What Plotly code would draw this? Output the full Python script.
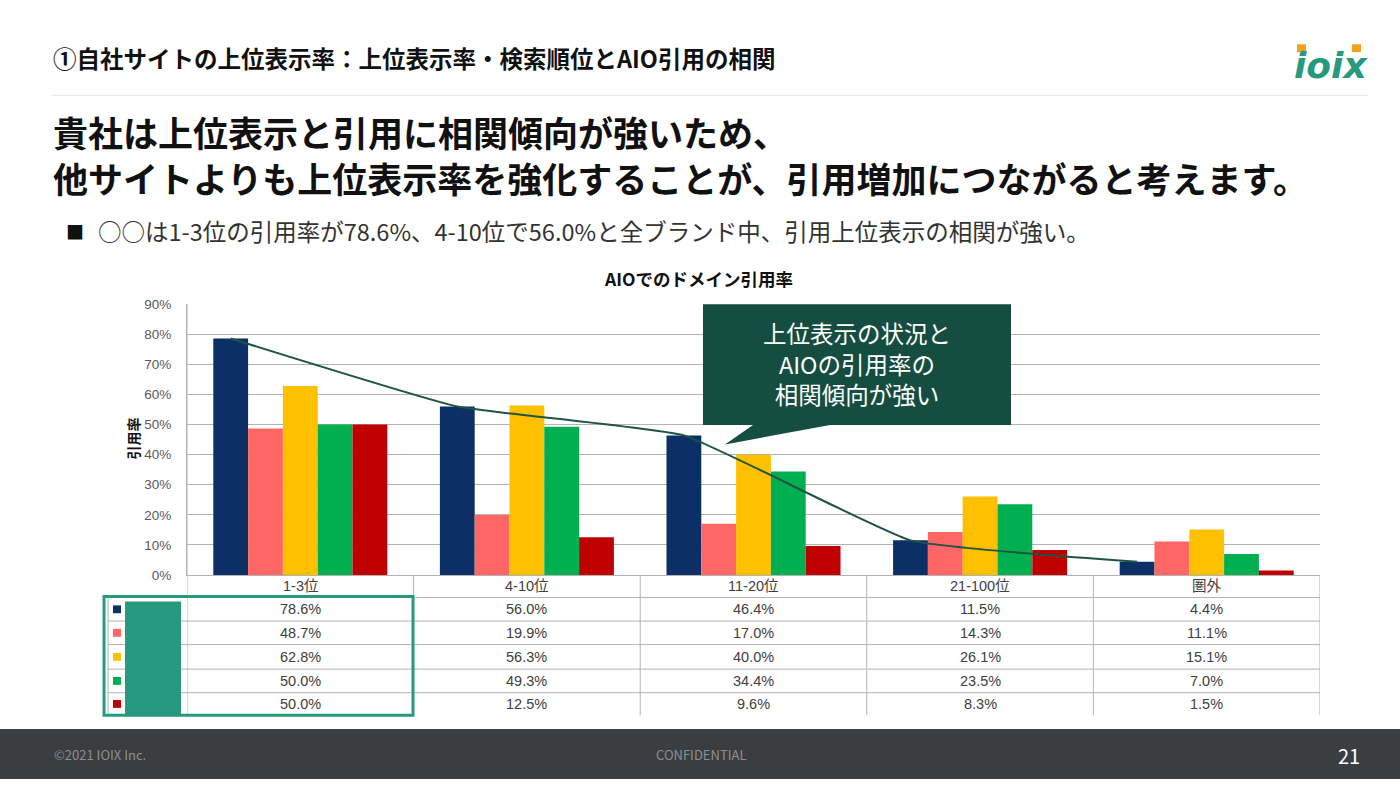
"""AIO domain citation rate by search rank, with an Excel-style data table."""

import numpy as np
import plotly.graph_objects as go

W, H = 1400, 787

# ---- data ---------------------------------------------------------------
rank_groups = ["1-3位", "4-10位", "11-20位", "21-100位", "圏外"]
series_colors = ["#0c2f66", "#ff6666", "#ffc000", "#00b050", "#c00000"]
rate_s1 = [0.786, 0.560, 0.464, 0.115, 0.044]
rate_s2 = [0.487, 0.199, 0.170, 0.143, 0.111]
rate_s3 = [0.628, 0.563, 0.400, 0.261, 0.151]
rate_s4 = [0.500, 0.493, 0.344, 0.235, 0.070]
rate_s5 = [0.500, 0.125, 0.096, 0.083, 0.015]
series = [rate_s1, rate_s2, rate_s3, rate_s4, rate_s5]
y_ticks = [0.0, 0.1, 0.2, 0.3, 0.4, 0.5, 0.6, 0.7, 0.8, 0.9]

page_title = "①自社サイトの上位表示率：上位表示率・検索順位とAIO引用の相関"
headline = ["貴社は上位表示と引用に相関傾向が強いため、",
            "他サイトよりも上位表示率を強化することが、引用増加につながると考えます。"]
bullet = "○○は1-3位の引用率が78.6%、4-10位で56.0%と全ブランド中、引用上位表示の相関が強い。"
chart_title = "AIOでのドメイン引用率"
callout = ["上位表示の状況と", "AIOの引用率の", "相関傾向が強い"]

JP = "'Noto Sans CJK JP', sans-serif"
XL = "'Liberation Sans', 'Noto Sans CJK JP', sans-serif"
GRID = "#b3b3b3"
TEAL = "#26997f"
BAR_GAP = 0.232


def px(x):
    return x / W


def py(y):
    return 1 - y / H


fig = go.Figure()
for vals, color in zip(series, series_colors):
    fig.add_trace(go.Bar(x=list(range(len(rank_groups))), y=vals,
                         marker=dict(color=color, line_width=0)))

# smoothed trend through the first series, centred on its bars
bar_w = (1 - BAR_GAP) / len(series)
trend_x = np.arange(len(rank_groups)) - 2 * bar_w
fig.add_trace(go.Scatter(x=trend_x, y=rate_s1, mode="lines",
                         line=dict(color="#1d5543", width=2, shape="spline", smoothing=0.35),
                         hoverinfo="skip"))

shapes = []
ann = []

# ---- page furniture -----------------------------------------------------
shapes.append(dict(type="line", xref="paper", yref="paper", x0=px(52), x1=px(1368),
                   y0=py(90), y1=py(90), line=dict(color="#e3e3e3", width=1)))
shapes.append(dict(type="rect", xref="paper", yref="paper", x0=0, x1=1,
                   y0=0, y1=py(736), fillcolor="#3a3e41", line_width=0, layer="below"))
ann.append(dict(text=f"<b>{page_title}</b>", x=px(51), y=py(52),
                font=dict(family=JP, size=23.5, color="#111"), xanchor="left"))
ann.append(dict(text="<b>" + "<br>".join(headline) + "</b>", x=px(51), y=py(150),
                font=dict(family=JP, size=35, color="#111"), xanchor="left", align="left"))
ann.append(dict(text="■", x=px(64), y=py(228), font=dict(family=JP, size=18, color="#111"),
                xanchor="left"))
ann.append(dict(text=bullet, x=px(96), y=py(228), font=dict(family=JP, size=23.5, color="#333"),
                xanchor="left"))
ann.append(dict(text="©2021 IOIX Inc.", x=px(52), y=py(762),
                font=dict(family=JP, size=13, color="#8c8f92"), xanchor="left"))
ann.append(dict(text="CONFIDENTIAL", x=px(701), y=py(762),
                font=dict(family=JP, size=13, color="#8c8f92")))
ann.append(dict(text="21", x=px(1362), y=py(763),
                font=dict(family=JP, size=20, color="#ffffff"), xanchor="right"))

# logo
ann.append(dict(text="<b><i>ioix</i></b>", x=px(1331), y=py(60),
                font=dict(family="'DejaVu Sans', sans-serif", size=36, color=TEAL)))
for lx in (1297, 1352):
    shapes.append(dict(type="rect", xref="paper", yref="paper", x0=px(lx), x1=px(lx + 9),
                       y0=py(46), y1=py(38), fillcolor="#f4a21c", line_width=0))

# ---- chart titles -------------------------------------------------------
ann.append(dict(text=f"<b>{chart_title}</b>", x=px(698), y=py(277),
                font=dict(family=JP, size=17.5, color="#111")))
ann.append(dict(text="<b>引用率</b>", x=px(133), y=py(440), textangle=-90,
                font=dict(family=JP, size=14, color="#111")))

# ---- callout ------------------------------------------------------------
shapes.append(dict(type="path", xref="paper", yref="paper", fillcolor="#154e40", line_width=0,
                   path=(f"M {px(703)} {py(303)} L {px(1011)} {py(303)} L {px(1011)} {py(426)} "
                         f"L {px(830)} {py(426)} L {px(725)} {py(446)} L {px(753)} {py(426)} "
                         f"L {px(703)} {py(426)} Z")))
ann.append(dict(text="<br>".join(callout), x=px(857), y=py(363), align="center",
                font=dict(family=JP, size=23.5, color="#ffffff")))

# ---- data table ---------------------------------------------------------
header_y = (579, 602)
row_edges = [602, 626, 650, 675, 699, 722]
n = len(rank_groups)
for k in range(n + 1):
    shapes.append(dict(type="line", xref="x", yref="paper", x0=k - 0.5, x1=k - 0.5,
                       y0=py(579 if k else 303), y1=py(722), line=dict(color=GRID, width=1)))
shapes.append(dict(type="line", xref="paper", yref="paper", x0=px(108), x1=px(108),
                   y0=py(602), y1=py(722), line=dict(color=GRID, width=1)))
for ry in row_edges[:-1]:
    shapes.append(dict(type="line", xref="paper", yref="paper", x0=px(108), x1=px(1320),
                       y0=py(ry), y1=py(ry), line=dict(color=GRID, width=1)))
for k, name in enumerate(rank_groups):
    ann.append(dict(text=name, x=k, xref="x", y=py(sum(header_y) / 2),
                    font=dict(family=XL, size=14.5, color="#404040")))
for r, (vals, color) in enumerate(zip(series, series_colors)):
    yc = (row_edges[r] + row_edges[r + 1]) / 2
    shapes.append(dict(type="rect", xref="paper", yref="paper", x0=px(113), x1=px(121),
                       y0=py(yc - 4), y1=py(yc + 4), fillcolor=color, line_width=0))
    for k, v in enumerate(vals):
        ann.append(dict(text=f"{v * 100:.1f}%", x=k, xref="x", y=py(yc),
                        font=dict(family=XL, size=14.5, color="#404040")))

# redacted series names and highlight box
shapes.append(dict(type="rect", xref="paper", yref="paper", x0=px(125), x1=px(181),
                   y0=py(606), y1=py(722), fillcolor=TEAL, line_width=0))
shapes.append(dict(type="rect", xref="paper", yref="paper", x0=px(104), x1=px(413),
                   y0=py(601), y1=py(722), line=dict(color=TEAL, width=3)))

for a in ann:
    a.setdefault("xref", "paper")
    a.setdefault("yref", "paper")
    a.setdefault("xanchor", "center")
    a.setdefault("yanchor", "middle")
    a["showarrow"] = False

fig.update_layout(
    width=W, height=H, margin=dict(l=0, r=0, t=0, b=0),
    paper_bgcolor="white", plot_bgcolor="white", showlegend=False,
    barmode="group", bargap=BAR_GAP, bargroupgap=0,
    shapes=shapes, annotations=ann,
    xaxis=dict(domain=[px(187), px(1320)], range=[-0.5, n - 0.5], showticklabels=False,
               showgrid=False, zeroline=False, showline=True, linecolor=GRID, ticks="",
               fixedrange=True),
    yaxis=dict(domain=[py(579), py(303)], range=[0, 0.9], tickvals=y_ticks, tickformat=".0%",
               showgrid=True, gridcolor=GRID, gridwidth=1, zeroline=False, showline=True,
               linecolor=GRID, ticks="", ticklabelstandoff=12,
               tickfont=dict(family=XL, size=13.5, color="#595959"), fixedrange=True),
)

fig.write_html("out.html", config={"displayModeBar": False},
               post_script=("document.documentElement.style.overflow='hidden';"
                            "document.body.style.margin='0';"
                            "document.body.style.overflow='hidden';"))
